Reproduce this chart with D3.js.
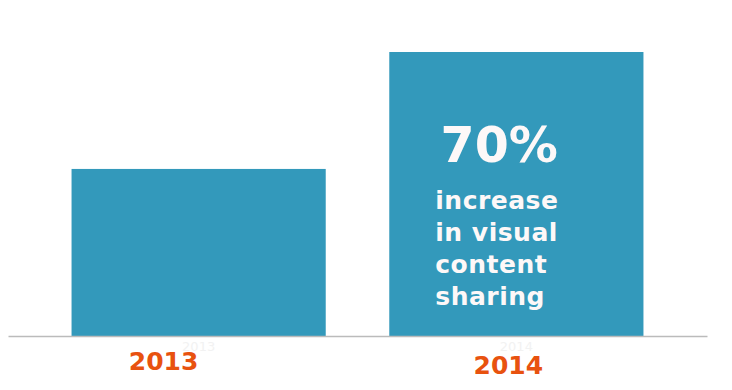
<!DOCTYPE html>
<meta charset="utf-8">
<script src="https://d3js.org/d3.v7.min.js"></script>
<body style="margin:0;background:#fff">
<svg width="732" height="390"></svg>
<script>
    // data
    var years  = ["2013", "2014"];
    var values = [100, 170];            // 2014 = 70% more than 2013
    var bigNumber = "70%";
    var captionLines = ["increase", "in visual", "content", "sharing"];

    var svg = d3.select("svg");
    var baseY = 336;

    var x = d3.scaleBand()
        .domain(years)
        .range([8, 707])
        .paddingInner(0.2)
        .paddingOuter(0.2);

    var y = d3.scaleLinear()
        .domain([0, 170])
        .range([baseY, 52]);

    // bars
    svg.selectAll("rect.bar")
        .data(years)
        .enter()
        .append("rect")
        .attr("class", "bar")
        .attr("x", function(d){ return x(d); })
        .attr("width", x.bandwidth())
        .attr("y", function(d, i){ return y(values[i]); })
        .attr("height", function(d, i){ return baseY - y(values[i]); })
        .attr("fill", "#3399bb");

    // axis (faint tick labels + grey base line)
    var axis = svg.append("g")
        .attr("transform", "translate(0," + baseY + ")")
        .call(d3.axisBottom(x).tickSize(0).tickSizeOuter(0).tickPadding(6));

    axis.select(".domain").attr("stroke", "#bbbbbb").attr("stroke-width", 1.5);
    axis.selectAll("text")
        .attr("fill", "#f2f2f2")
        .style("font-family", "DejaVu Sans")
        .style("font-size", "13px");

    // orange year labels
    var labelShift = [-35, -8], labelDrop = [34, 38];
    svg.selectAll("text.year")
        .data(years)
        .enter()
        .append("text")
        .attr("class", "year")
        .attr("x", function(d, i){ return x(d) + x.bandwidth() / 2 + labelShift[i]; })
        .attr("y", function(d, i){ return baseY + labelDrop[i]; })
        .attr("text-anchor", "middle")
        .attr("fill", "#e8520f")
        .style("font-family", "DejaVu Sans")
        .style("font-weight", "bold")
        .style("font-size", "25px")
        .text(function(d){ return d; });

    // annotation on the 2014 bar
    var ax = x("2014") + 46;
    svg.append("text")
        .attr("x", ax + 64)
        .attr("y", 162)
        .attr("text-anchor", "middle")
        .attr("fill", "#fdf8f8")
        .style("font-family", "DejaVu Sans")
        .style("font-weight", "bold")
        .style("font-size", "49px")
        .text(bigNumber);

    svg.selectAll("text.caption")
        .data(captionLines)
        .enter()
        .append("text")
        .attr("class", "caption")
        .attr("x", ax)
        .attr("y", function(d, i){ return 209 + i * 32; })
        .attr("fill", "#fdf8f8")
        .style("font-family", "DejaVu Sans")
        .style("font-weight", "bold")
        .style("font-size", "25px")
        .style("letter-spacing", "0.5px")
        .text(function(d){ return d; });
</script>
</body>
